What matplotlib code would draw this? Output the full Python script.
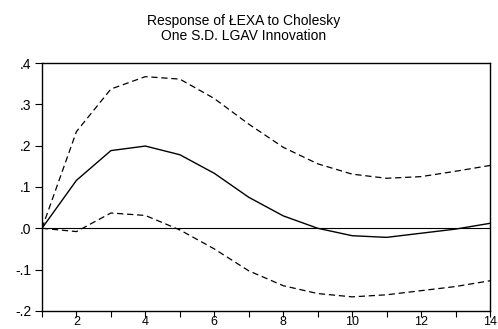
import matplotlib
matplotlib.use("Agg")
import matplotlib.pyplot as plt
import numpy as np

plt.rcParams['font.family'] = ['Liberation Sans', 'DejaVu Sans']

periods = np.arange(1, 15)
response = [0.0, 0.116, 0.188, 0.199, 0.178, 0.133, 0.075, 0.030, 0.0,
            -0.018, -0.022, -0.012, -0.002, 0.012]
upper = [0.0, 0.234, 0.337, 0.367, 0.361, 0.314, 0.252, 0.196, 0.156,
         0.131, 0.121, 0.125, 0.138, 0.152]
lower = [0.0, -0.008, 0.037, 0.031, -0.004, -0.050, -0.103, -0.139, -0.158,
         -0.166, -0.161, -0.151, -0.141, -0.127]
yticks = [-0.2, -0.1, 0.0, 0.1, 0.2, 0.3, 0.4]
ylabels = ['-.2', '-.1', '.0', '.1', '.2', '.3', '.4']

fig = plt.figure(figsize=(4.98, 3.29), dpi=100)
ax = fig.add_axes([0.0843, 0.055, 0.8997, 0.7535])

ax.axhline(0, color='black', lw=0.8)
ax.plot(periods, response, color='black', lw=1.0)
ax.plot(periods, upper, color='black', lw=0.9, ls=(0, (5, 3)))
ax.plot(periods, lower, color='black', lw=0.9, ls=(0, (5, 3)))

ax.set_xlim(1, 14)
ax.set_ylim(-0.2, 0.4)
ax.set_xticks(periods)
ax.set_xticklabels([str(p) if p % 2 == 0 else '' for p in periods])
ax.set_yticks(yticks)
ax.set_yticklabels(ylabels)
ax.tick_params(direction='out', length=5, width=0.8, labelsize=10)
ax.tick_params(axis='x', length=4, labelsize=9, pad=0)
ax.tick_params(axis='y', pad=2.5)
for s in ax.spines.values():
    s.set_linewidth(1.0)

# two-line title centred on the figure
fig.text(0.49, 0.924, 'Response of ŁEXA to Cholesky', ha='center',
         va='baseline', fontsize=10)
fig.text(0.49, 0.878, 'One S.D. LGAV Innovation', ha='center',
         va='baseline', fontsize=10)

fig.savefig('out.png', dpi=100)
